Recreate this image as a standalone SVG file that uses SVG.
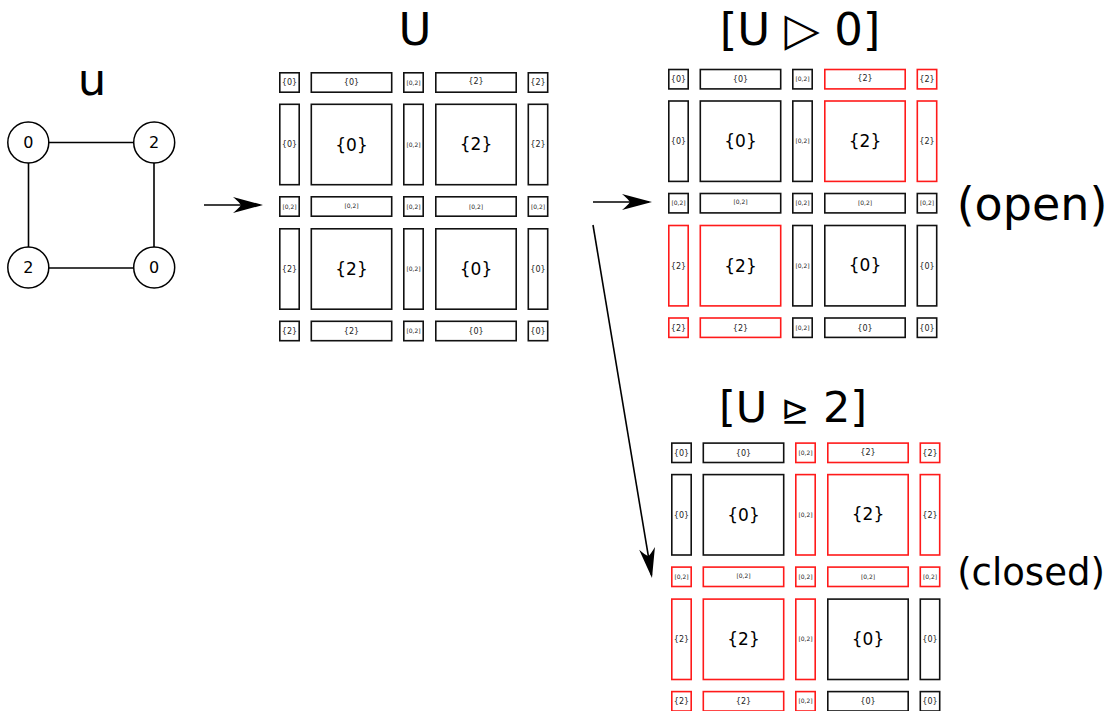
<svg xmlns="http://www.w3.org/2000/svg" width="1109" height="711" viewBox="0 0 1109 711">
<style>
text{font-family:"DejaVu Sans","Noto Sans",sans-serif;text-anchor:middle;fill:#000}
.k{fill:#fff;stroke:#111;stroke-width:1.6}
.r{fill:#fff;stroke:#ff1a1a;stroke-width:1.6}
.s8{font-size:8px;fill:#222}
.s6{font-size:6px;fill:#222}
.s17{font-size:17px}
.t{font-size:45px}
.node{fill:#fff;stroke:#000;stroke-width:1.5}
.nl{font-size:16px}
.edge{stroke:#000;stroke-width:1.6;fill:none}
.arr{stroke:#000;stroke-width:1.6;fill:none;marker-end:url(#ah)}
</style>
<defs>
<marker id="ah" markerUnits="userSpaceOnUse" markerWidth="32" markerHeight="20" refX="27" refY="10" orient="auto" overflow="visible">
<path d="M30,10 L0,2 Q6,7 8,10 Q6,13 0,18 Z" fill="#000"/>
</marker>
</defs>

<g id="title-u"><text class="t" x="92" y="95">u</text></g>
<g id="title-U"><text class="t" x="415" y="45">U</text></g>
<g id="title-open"><text class="t" x="800" y="45">[U <tspan style="font-size:46px">▷</tspan> 0]</text></g>
<g id="title-closed"><text class="t" x="793" y="422" style="font-size:43px">[U <tspan style="font-size:34px">⊵</tspan> 2]</text></g>
<g id="label-open"><text x="1032" y="220" style="font-size:46px">(open)</text></g>
<g id="label-closed"><text x="1031" y="585" style="font-size:37px">(closed)</text></g>

<g id="graph-u">
<g id="graph-edges">
<line class="edge" x1="48.5" y1="142.5" x2="133.5" y2="142.5"/>
<line class="edge" x1="48.5" y1="268" x2="133.5" y2="268"/>
<line class="edge" x1="28.5" y1="163" x2="28.5" y2="247"/>
<line class="edge" x1="154" y1="163" x2="154" y2="247"/>
</g>
<g id="n1"><circle class="node" cx="28.3" cy="142.5" r="20.5"/><text class="nl" x="28.3" y="148.3">0</text></g>
<g id="n2"><circle class="node" cx="154.2" cy="142.5" r="20.5"/><text class="nl" x="154.2" y="148.3">2</text></g>
<g id="n3"><circle class="node" cx="28.3" cy="267.5" r="20.5"/><text class="nl" x="28.3" y="273.3">2</text></g>
<g id="n4"><circle class="node" cx="154.2" cy="267.5" r="20.5"/><text class="nl" x="154.2" y="273.3">0</text></g>
</g>

<g id="connectors">
<path class="arr" d="M204,205 L260,205"/>
<path class="arr" d="M593,202 L649,202"/>
<path class="arr" d="M593,225 L651.5,575"/>
</g>

<g id="grid-U" transform="translate(279,72)">
<rect class="k" x="0.8" y="0.8" width="19.4" height="19.4"/><text class="s8" x="10.5" y="13.4">{0}</text>
<rect class="k" x="32.3" y="0.8" width="80.4" height="19.4"/><text class="s8" x="72.5" y="13.4">{0}</text>
<rect class="k" x="124.8" y="0.8" width="19.4" height="19.4"/><text class="s6" x="134.5" y="12.7">[0,2]</text>
<rect class="k" x="156.8" y="0.8" width="80.4" height="19.4"/><text class="s8" x="197" y="12.4">{2}</text>
<rect class="k" x="249.3" y="0.8" width="19.4" height="19.4"/><text class="s8" x="259" y="13.4">{2}</text>

<rect class="k" x="0.8" y="32.3" width="19.4" height="80.4"/><text class="s8" x="10.5" y="75.4">{0}</text>
<rect class="k" x="32.3" y="32.3" width="80.4" height="80.4"/><text class="s17" x="72.5" y="78.7">{0}</text>
<rect class="k" x="124.8" y="32.3" width="19.4" height="80.4"/><text class="s6" x="134.5" y="74.7">[0,2]</text>
<rect class="k" x="156.8" y="32.3" width="80.4" height="80.4"/><text class="s17" x="197" y="78.2">{2}</text>
<rect class="k" x="249.3" y="32.3" width="19.4" height="80.4"/><text class="s8" x="259" y="75.4">{2}</text>

<rect class="k" x="0.8" y="124.8" width="19.4" height="19.4"/><text class="s6" x="10.5" y="136.7">[0,2]</text>
<rect class="k" x="32.3" y="124.8" width="80.4" height="19.4"/><text class="s6" x="72.5" y="135.7">[0,2]</text>
<rect class="k" x="124.8" y="124.8" width="19.4" height="19.4"/><text class="s6" x="134.5" y="136.7">[0,2]</text>
<rect class="k" x="156.8" y="124.8" width="80.4" height="19.4"/><text class="s6" x="197" y="136.7">[0,2]</text>
<rect class="k" x="249.3" y="124.8" width="19.4" height="19.4"/><text class="s6" x="259" y="136.7">[0,2]</text>

<rect class="k" x="0.8" y="156.8" width="19.4" height="80.4"/><text class="s8" x="10.5" y="199.9">{2}</text>
<rect class="k" x="32.3" y="156.8" width="80.4" height="80.4"/><text class="s17" x="72.5" y="203.2">{2}</text>
<rect class="k" x="124.8" y="156.8" width="19.4" height="80.4"/><text class="s6" x="134.5" y="199.2">[0,2]</text>
<rect class="k" x="156.8" y="156.8" width="80.4" height="80.4"/><text class="s17" x="197" y="202.7">{0}</text>
<rect class="k" x="249.3" y="156.8" width="19.4" height="80.4"/><text class="s8" x="259" y="199.9">{0}</text>

<rect class="k" x="0.8" y="249.3" width="19.4" height="19.4"/><text class="s8" x="10.5" y="261.9">{2}</text>
<rect class="k" x="32.3" y="249.3" width="80.4" height="19.4"/><text class="s8" x="72.5" y="261.9">{2}</text>
<rect class="k" x="124.8" y="249.3" width="19.4" height="19.4"/><text class="s6" x="134.5" y="261.2">[0,2]</text>
<rect class="k" x="156.8" y="249.3" width="80.4" height="19.4"/><text class="s8" x="197" y="261.9">{0}</text>
<rect class="k" x="249.3" y="249.3" width="19.4" height="19.4"/><text class="s8" x="259" y="261.9">{0}</text>
</g>

<g id="grid-open" transform="translate(668,68.7)">
<rect class="k" x="0.8" y="0.8" width="19.4" height="19.4"/><text class="s8" x="10.5" y="13.4">{0}</text>
<rect class="k" x="32.3" y="0.8" width="80.4" height="19.4"/><text class="s8" x="72.5" y="13.4">{0}</text>
<rect class="k" x="124.8" y="0.8" width="19.4" height="19.4"/><text class="s6" x="134.5" y="12.7">[0,2]</text>
<rect class="r" x="156.8" y="0.8" width="80.4" height="19.4"/><text class="s8" x="197" y="12.4">{2}</text>
<rect class="r" x="249.3" y="0.8" width="19.4" height="19.4"/><text class="s8" x="259" y="13.4">{2}</text>

<rect class="k" x="0.8" y="32.3" width="19.4" height="80.4"/><text class="s8" x="10.5" y="75.4">{0}</text>
<rect class="k" x="32.3" y="32.3" width="80.4" height="80.4"/><text class="s17" x="72.5" y="78.7">{0}</text>
<rect class="k" x="124.8" y="32.3" width="19.4" height="80.4"/><text class="s6" x="134.5" y="74.7">[0,2]</text>
<rect class="r" x="156.8" y="32.3" width="80.4" height="80.4"/><text class="s17" x="197" y="78.2">{2}</text>
<rect class="r" x="249.3" y="32.3" width="19.4" height="80.4"/><text class="s8" x="259" y="75.4">{2}</text>

<rect class="k" x="0.8" y="124.8" width="19.4" height="19.4"/><text class="s6" x="10.5" y="136.7">[0,2]</text>
<rect class="k" x="32.3" y="124.8" width="80.4" height="19.4"/><text class="s6" x="72.5" y="135.7">[0,2]</text>
<rect class="k" x="124.8" y="124.8" width="19.4" height="19.4"/><text class="s6" x="134.5" y="136.7">[0,2]</text>
<rect class="k" x="156.8" y="124.8" width="80.4" height="19.4"/><text class="s6" x="197" y="136.7">[0,2]</text>
<rect class="k" x="249.3" y="124.8" width="19.4" height="19.4"/><text class="s6" x="259" y="136.7">[0,2]</text>

<rect class="r" x="0.8" y="156.8" width="19.4" height="80.4"/><text class="s8" x="10.5" y="199.9">{2}</text>
<rect class="r" x="32.3" y="156.8" width="80.4" height="80.4"/><text class="s17" x="72.5" y="203.2">{2}</text>
<rect class="k" x="124.8" y="156.8" width="19.4" height="80.4"/><text class="s6" x="134.5" y="199.2">[0,2]</text>
<rect class="k" x="156.8" y="156.8" width="80.4" height="80.4"/><text class="s17" x="197" y="202.7">{0}</text>
<rect class="k" x="249.3" y="156.8" width="19.4" height="80.4"/><text class="s8" x="259" y="199.9">{0}</text>

<rect class="r" x="0.8" y="249.3" width="19.4" height="19.4"/><text class="s8" x="10.5" y="261.9">{2}</text>
<rect class="r" x="32.3" y="249.3" width="80.4" height="19.4"/><text class="s8" x="72.5" y="261.9">{2}</text>
<rect class="k" x="124.8" y="249.3" width="19.4" height="19.4"/><text class="s6" x="134.5" y="261.2">[0,2]</text>
<rect class="k" x="156.8" y="249.3" width="80.4" height="19.4"/><text class="s8" x="197" y="261.9">{0}</text>
<rect class="k" x="249.3" y="249.3" width="19.4" height="19.4"/><text class="s8" x="259" y="261.9">{0}</text>
</g>

<g id="grid-closed" transform="translate(671,442.3)">
<rect class="k" x="0.8" y="0.8" width="19.4" height="19.4"/><text class="s8" x="10.5" y="13.4">{0}</text>
<rect class="k" x="32.3" y="0.8" width="80.4" height="19.4"/><text class="s8" x="72.5" y="13.4">{0}</text>
<rect class="r" x="124.8" y="0.8" width="19.4" height="19.4"/><text class="s6" x="134.5" y="12.7">[0,2]</text>
<rect class="r" x="156.8" y="0.8" width="80.4" height="19.4"/><text class="s8" x="197" y="12.4">{2}</text>
<rect class="r" x="249.3" y="0.8" width="19.4" height="19.4"/><text class="s8" x="259" y="13.4">{2}</text>

<rect class="k" x="0.8" y="32.3" width="19.4" height="80.4"/><text class="s8" x="10.5" y="75.4">{0}</text>
<rect class="k" x="32.3" y="32.3" width="80.4" height="80.4"/><text class="s17" x="72.5" y="78.7">{0}</text>
<rect class="r" x="124.8" y="32.3" width="19.4" height="80.4"/><text class="s6" x="134.5" y="74.7">[0,2]</text>
<rect class="r" x="156.8" y="32.3" width="80.4" height="80.4"/><text class="s17" x="197" y="78.2">{2}</text>
<rect class="r" x="249.3" y="32.3" width="19.4" height="80.4"/><text class="s8" x="259" y="75.4">{2}</text>

<rect class="r" x="0.8" y="124.8" width="19.4" height="19.4"/><text class="s6" x="10.5" y="136.7">[0,2]</text>
<rect class="r" x="32.3" y="124.8" width="80.4" height="19.4"/><text class="s6" x="72.5" y="135.7">[0,2]</text>
<rect class="r" x="124.8" y="124.8" width="19.4" height="19.4"/><text class="s6" x="134.5" y="136.7">[0,2]</text>
<rect class="r" x="156.8" y="124.8" width="80.4" height="19.4"/><text class="s6" x="197" y="136.7">[0,2]</text>
<rect class="r" x="249.3" y="124.8" width="19.4" height="19.4"/><text class="s6" x="259" y="136.7">[0,2]</text>

<rect class="r" x="0.8" y="156.8" width="19.4" height="80.4"/><text class="s8" x="10.5" y="199.9">{2}</text>
<rect class="r" x="32.3" y="156.8" width="80.4" height="80.4"/><text class="s17" x="72.5" y="203.2">{2}</text>
<rect class="r" x="124.8" y="156.8" width="19.4" height="80.4"/><text class="s6" x="134.5" y="199.2">[0,2]</text>
<rect class="k" x="156.8" y="156.8" width="80.4" height="80.4"/><text class="s17" x="197" y="202.7">{0}</text>
<rect class="k" x="249.3" y="156.8" width="19.4" height="80.4"/><text class="s8" x="259" y="199.9">{0}</text>

<rect class="r" x="0.8" y="249.3" width="19.4" height="19.4"/><text class="s8" x="10.5" y="261.9">{2}</text>
<rect class="r" x="32.3" y="249.3" width="80.4" height="19.4"/><text class="s8" x="72.5" y="261.9">{2}</text>
<rect class="r" x="124.8" y="249.3" width="19.4" height="19.4"/><text class="s6" x="134.5" y="261.2">[0,2]</text>
<rect class="k" x="156.8" y="249.3" width="80.4" height="19.4"/><text class="s8" x="197" y="261.9">{0}</text>
<rect class="k" x="249.3" y="249.3" width="19.4" height="19.4"/><text class="s8" x="259" y="261.9">{0}</text>
</g>
</svg>
